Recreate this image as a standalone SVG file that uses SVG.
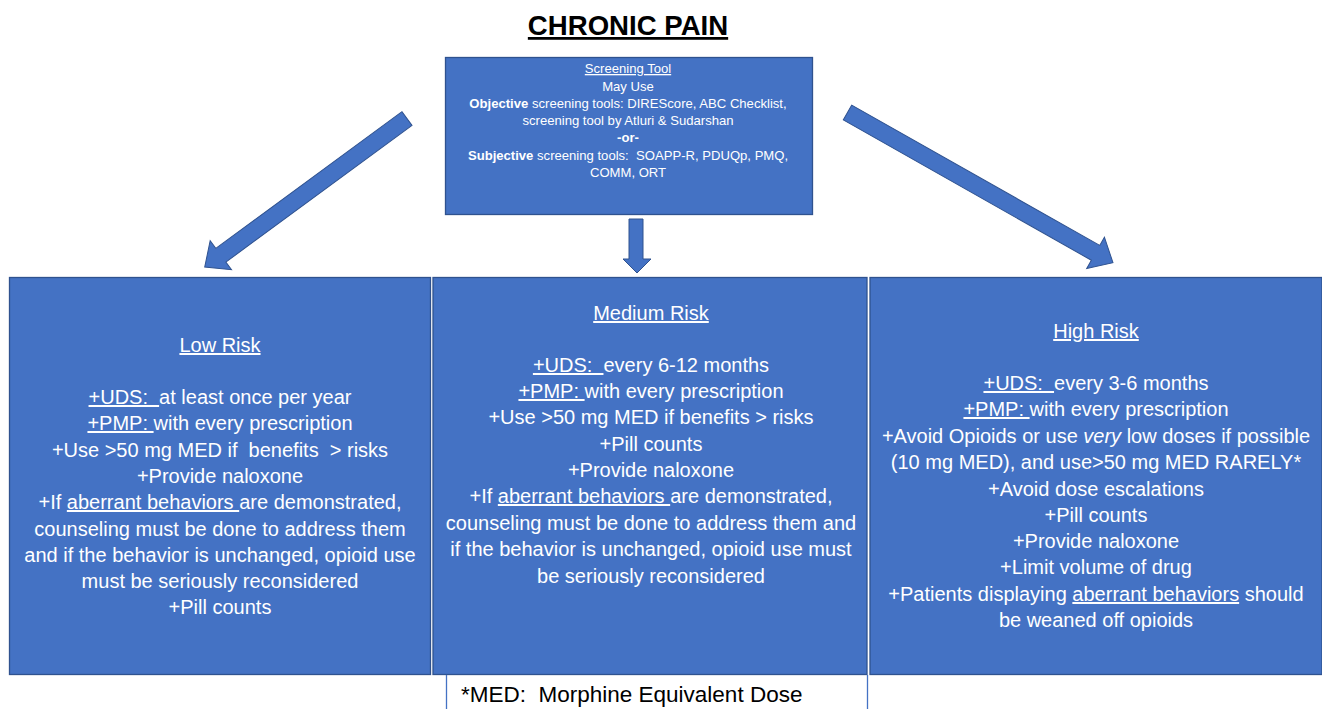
<svg xmlns="http://www.w3.org/2000/svg" width="1322" height="709" viewBox="0 0 1322 709">
<style>
.box{fill:#4472C4;stroke:#2F528F;stroke-width:1.3}
.arr{fill:#4472C4;stroke:#2F528F;stroke-width:1}
.t{font-family:"Liberation Sans",Arial,sans-serif;fill:#fff;text-anchor:middle}
.s{font-size:13.1px}
.m{font-size:20px}
.u{text-decoration:underline}
.b{font-weight:bold}
</style>
<rect width="1322" height="709" fill="#fff"/>
<text x="628" y="35" font-family="Liberation Sans,Arial,sans-serif" font-size="27.6" font-weight="bold" text-anchor="middle" text-decoration="underline" fill="#000">CHRONIC PAIN</text>
<g id="connectors">
<path class="arr" transform="translate(407,118.5) rotate(143.7)" d="M0,-8.5 L231,-8.5 L231,-18 L251,0 L231,18 L231,8.5 L0,8.5 Z"/>
<path class="arr" transform="translate(847.5,112.5) rotate(29.5)" d="M0,-8.5 L285,-8.5 L285,-18 L305,0 L285,18 L285,8.5 L0,8.5 Z"/>
<path class="arr" d="M629,219 L643,219 L643,259 L651,259 L637,273 L623,259 L629,259 Z"/>
</g>
<g id="screening">
<rect class="box" x="445.5" y="57.5" width="367" height="157"/>
<text class="t s" xml:space="preserve"><tspan x="628" y="73" class="u">Screening Tool</tspan><tspan x="628" y="91">May Use</tspan><tspan x="628" y="108"><tspan class="b">Objective</tspan> screening tools: DIREScore, ABC Checklist,</tspan><tspan x="628" y="125">screening tool by Atluri &amp; Sudarshan</tspan><tspan x="628" y="142" class="b">-or-</tspan><tspan x="628" y="160"><tspan class="b">Subjective</tspan> screening tools:  SOAPP-R, PDUQp, PMQ,</tspan><tspan x="628" y="177">COMM, ORT</tspan></text>
</g>
<g id="low">
<rect class="box" x="9.5" y="277.5" width="421" height="397"/>
<text class="t m" xml:space="preserve"><tspan x="220" y="352" class="u">Low Risk</tspan><tspan x="220" y="404"><tspan class="u">+UDS:  </tspan>at least once per year</tspan><tspan x="220" y="430"><tspan class="u">+PMP: </tspan>with every prescription</tspan><tspan x="220" y="457">+Use &gt;50 mg MED if  benefits  &gt; risks</tspan><tspan x="220" y="483">+Provide naloxone</tspan><tspan x="220" y="509">+If <tspan class="u">aberrant behaviors </tspan>are demonstrated,</tspan><tspan x="220" y="536">counseling must be done to address them</tspan><tspan x="220" y="562">and if the behavior is unchanged, opioid use</tspan><tspan x="220" y="588">must be seriously reconsidered</tspan><tspan x="220" y="614">+Pill counts</tspan></text>
</g>
<g id="medium">
<rect class="box" x="433" y="277.5" width="434" height="397"/>
<text class="t m" xml:space="preserve"><tspan x="651" y="320" class="u">Medium Risk</tspan><tspan x="651" y="372"><tspan class="u">+UDS:  </tspan>every 6-12 months</tspan><tspan x="651" y="398"><tspan class="u">+PMP: </tspan>with every prescription</tspan><tspan x="651" y="424">+Use &gt;50 mg MED if benefits &gt; risks</tspan><tspan x="651" y="451">+Pill counts</tspan><tspan x="651" y="477">+Provide naloxone</tspan><tspan x="651" y="503">+If <tspan class="u">aberrant behaviors </tspan>are demonstrated,</tspan><tspan x="651" y="530">counseling must be done to address them and</tspan><tspan x="651" y="556">if the behavior is unchanged, opioid use must</tspan><tspan x="651" y="583">be seriously reconsidered</tspan></text>
</g>
<g id="high">
<rect class="box" x="870" y="277.5" width="452" height="397"/>
<text class="t m" xml:space="preserve"><tspan x="1096" y="338" class="u">High Risk</tspan><tspan x="1096" y="390"><tspan class="u">+UDS:  </tspan>every 3-6 months</tspan><tspan x="1096" y="416"><tspan class="u">+PMP: </tspan>with every prescription</tspan><tspan x="1096" y="443">+Avoid Opioids or use <tspan font-style="italic">very</tspan> low doses if possible</tspan><tspan x="1096" y="469">(10 mg MED), and use&gt;50 mg MED RARELY*</tspan><tspan x="1096" y="496">+Avoid dose escalations</tspan><tspan x="1096" y="522">+Pill counts</tspan><tspan x="1096" y="548">+Provide naloxone</tspan><tspan x="1096" y="574">+Limit volume of drug</tspan><tspan x="1096" y="601">+Patients displaying <tspan class="u">aberrant behaviors</tspan> should</tspan><tspan x="1096" y="627">be weaned off opioids</tspan></text>
</g>
<g id="footnote">
<path d="M446.5,675 V709 M867.5,675 V709" stroke="#4472C4" stroke-width="1.3" fill="none"/>
<text x="461" y="702" font-family="Liberation Sans,Arial,sans-serif" font-size="22.5" fill="#000" xml:space="preserve">*MED:  Morphine Equivalent Dose</text>
</g>
</svg>
